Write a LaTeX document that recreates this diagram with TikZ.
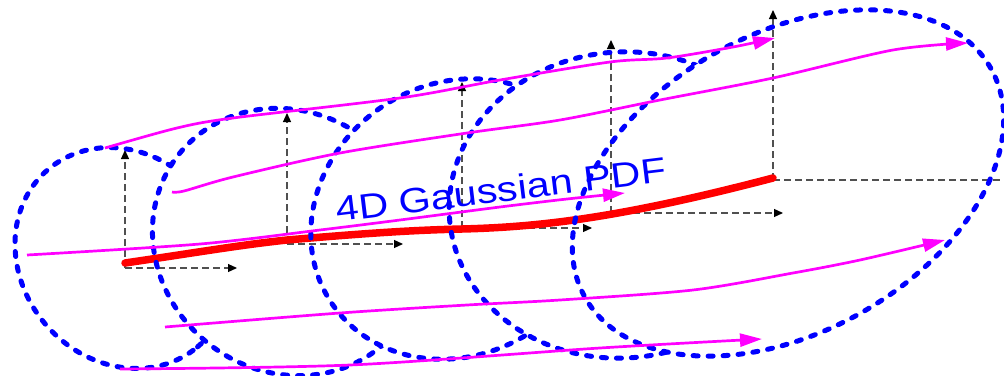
\documentclass[tikz,border=0pt]{standalone}
\usepackage{fontspec}
\setmainfont{Liberation Sans}
\usetikzlibrary{arrows.meta}
\definecolor{eBlue}{HTML}{0000FF}
\definecolor{fMagenta}{HTML}{FF00FF}
\definecolor{tRed}{HTML}{FF0000}
\definecolor{aGray}{HTML}{505050}

\begin{document}
\begin{tikzpicture}[x=1pt, y=-1pt,
    shell/.style={draw=eBlue, line width=5pt, line cap=round, dash pattern=on 5pt off 10pt},
    flow/.style={draw=fMagenta, line width=2.7pt, -{Triangle[length=22pt, width=13pt]}},
    axisline/.style={draw=aGray, line width=1.2pt, dash pattern=on 7pt off 4pt},
    axis/.style={axisline, -{Triangle[length=9pt, width=8pt, color=black]}},
    track/.style={draw=tRed, line width=7.5pt, line cap=round},
    title/.style={text=eBlue, font=\fontsize{35}{40}\selectfont, inner sep=0pt}]
  \useasboundingbox (0,0) rectangle (1004,375);
  % local frames along the track
  \foreach \i/\x/\y/\u/\r in {1/125/268/150/237, 2/287/244/113/403, 3/462/228/82/592, 4/611/213/40/783} {
    \coordinate (o\i) at (\x,\y);
    \coordinate (u\i) at (\x,\u);
    \coordinate (r\i) at (\r,\y);
    \draw[axis] (o\i) -- (u\i);
    \draw[axis] (o\i) -- (r\i);
  }
  \coordinate (o5) at (773,180);
  \coordinate (u5) at (773,10);
  \coordinate (r5) at (1004,180);
  \draw[axis] (o5) -- (u5);
  \draw[axisline] (o5) -- (r5);
  % mean track
  \draw[track] (125,263) .. controls (200,252) and (240,245) .. (287,240)
    .. controls (380,232) and (420,230) .. (462,229)
    .. controls (540,227) and (620,218) .. (773,178);
  % cross sections, each hidden behind the next one
  \foreach \cx/\cy/\a/\b/\r/\nx/\ny/\na/\nb/\nr in {
      123/258/116pt/102pt/-50/288/242/140pt/129pt/-40,
      288/242/140pt/129pt/-40/457/219/151pt/135pt/34,
      457/219/151pt/135pt/34/622/205/173pt/153pt/5,
      622/205/173pt/153pt/5/788/183/233pt/149pt/29.5} {
    \begin{scope}[even odd rule]
      \clip (-20,-20) rectangle (1030,400)
        (\nx,\ny) circle[x radius=\na, y radius=\nb, rotate=\nr];
      \draw[shell] (\cx,\cy) circle[x radius=\a, y radius=\b, rotate=\r];
    \end{scope}
  }
  \draw[shell] (788,183) circle[x radius=233pt, y radius=149pt, rotate=29.5];
  % sample trajectories
  \draw[flow] plot[smooth] coordinates {(105,148) (177,128) (233,118) (400,98) (500,80) (610,62) (667,58) (733,47) (775,38)};
  \draw[flow] plot[smooth] coordinates {(172,192) (184,191) (233,177) (340,153) (467,133) (560,120) (660,100) (773,78) (893,50) (968,43)};
  \draw[flow] plot[smooth] coordinates {(27,255) (200,244) (320,230) (400,220) (500,207) (567,199) (625,193)};
  \draw[flow] plot[smooth] coordinates {(165,327) (340,313) (467,305) (560,300) (693,290) (793,273) (860,260) (945,240)};
  \draw[flow] plot[smooth] coordinates {(120,369) (350,365) (600,348) (762,339)};
  \node[title, anchor=base west, rotate=7, xscale=1.18] (pdf) at (337,222) {4D Gaussian PDF};
\end{tikzpicture}
\end{document}
